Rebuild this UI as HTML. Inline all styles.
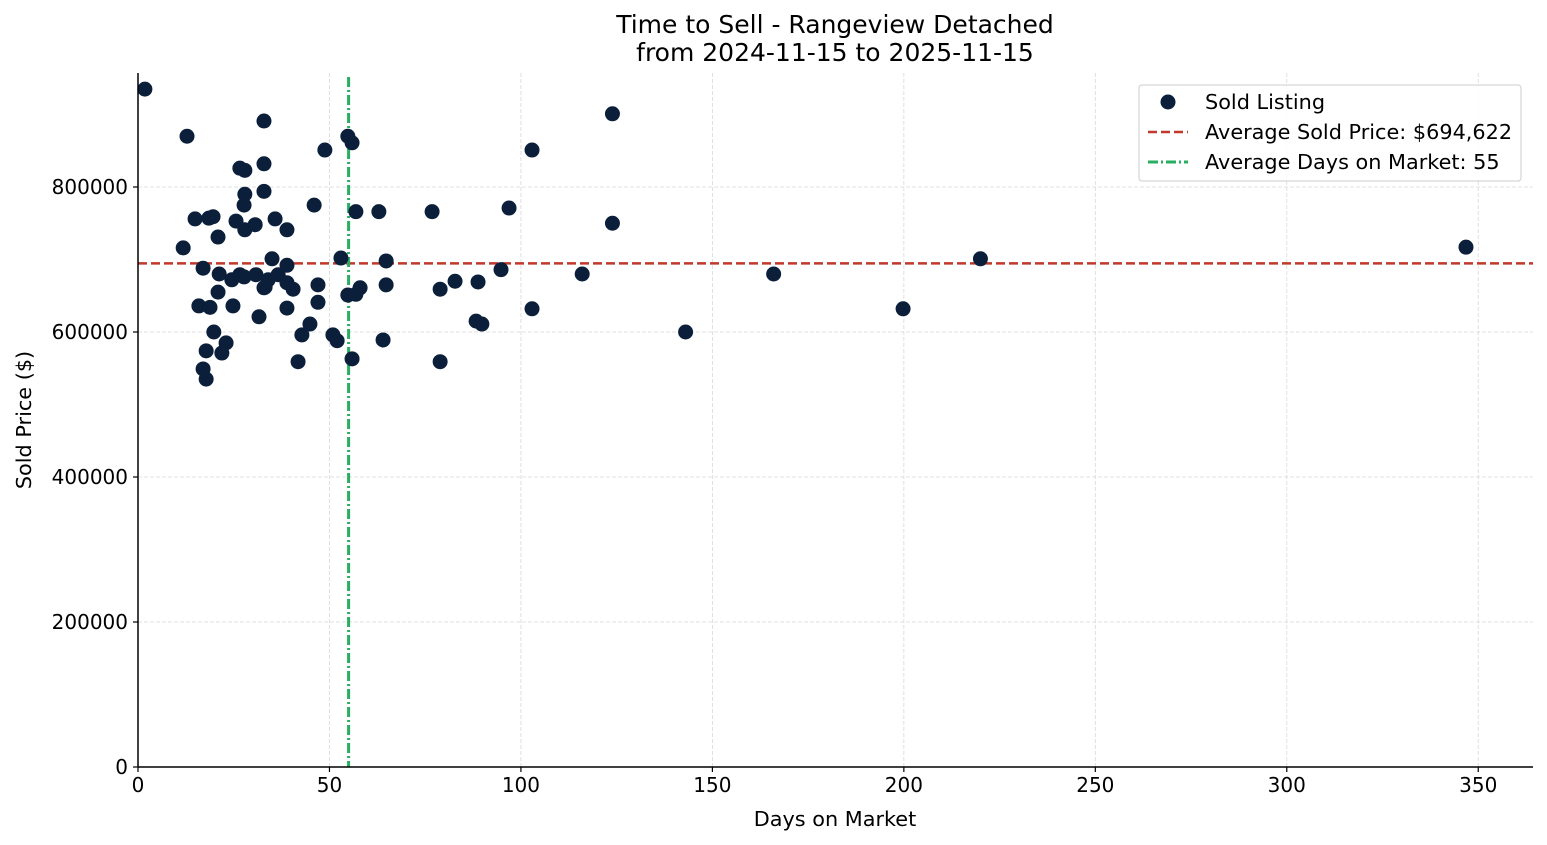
<!DOCTYPE html>
<html><head><meta charset="utf-8"><style>
html,body{margin:0;padding:0;background:#fff;}
svg{display:block;font-family:"DejaVu Sans","Liberation Sans",sans-serif;}
</style></head><body>
<svg id="chart" width="1547" height="845" viewBox="0 0 1547 845" xmlns="http://www.w3.org/2000/svg">
<g id="grid"></g>
<g id="refs"></g>
<g id="points"></g>
<g id="axes"></g>
<text x="835" y="33" text-anchor="middle" font-size="25" fill="#000">Time to Sell - Rangeview Detached</text>
<text x="835" y="61" text-anchor="middle" font-size="25" fill="#000">from 2024-11-15 to 2025-11-15</text>
<text x="835" y="826" text-anchor="middle" font-size="20.8" fill="#000">Days on Market</text>
<text transform="translate(31,420) rotate(-90)" text-anchor="middle" font-size="20.8" fill="#000">Sold Price ($)</text>
<g>
<rect x="1139" y="85" width="382" height="96" rx="3" fill="#fff" fill-opacity="0.9" stroke="#ccc"/>
<circle cx="1168" cy="102" r="7.5" fill="#0b1f3a"/>
<text x="1205" y="109" font-size="20.8">Sold Listing</text>
<line x1="1148" y1="132" x2="1188" y2="132" stroke="#c0392b" stroke-width="2.5" stroke-dasharray="9,4"/>
<text x="1205" y="139" font-size="20.8">Average Sold Price: $694,622</text>
<line x1="1148" y1="162" x2="1188" y2="162" stroke="#27ae60" stroke-width="3" stroke-dasharray="10,3,2,3"/>
<text x="1205" y="169" font-size="20.8">Average Days on Market: 55</text>
</g>
</svg>
<script>
const days=[1.8,12.8,32.9,11.8,14.9,18.5,19.6,20.9,25.6,26.6,27.9,27.9,27.7,27.9,30.6,32.9,32.9,35.8,38.9,35,17,21.2,24.5,26.6,27.7,30.8,33.2,34,36.6,38.9,38.9,40.5,47,47,32.9,24.8,15.9,18.8,20.9,31.6,38.9,44.9,42.8,19.8,23,21.9,17.8,17,17.8,41.8,50.9,52,55.9,53,46,48.8,54.8,55.9,56.9,62.9,64.8,64.8,58,56.9,54.8,64,76.8,78.9,82.8,88.8,78.9,88.3,89.8,94.8,96.9,102.9,102.9,116,123.9,123.9,143,166,199.8,220,346.8];
const prices=[935000,870000,891000,716000,756000,757000,759000,731000,753000,826000,823000,790000,775000,741000,748000,832000,794000,756000,741000,701000,688000,680000,672000,679000,676000,679000,662000,672000,679000,692000,668000,659000,665000,641000,661000,636000,636000,634000,655000,621000,633000,611000,596000,600000,585000,571000,574000,549000,535000,559000,596000,588000,563000,702000,775000,851000,870000,861000,766000,766000,698000,665000,661000,652000,651000,589000,766000,659000,670000,669000,559000,615000,611000,686000,771000,851000,632000,680000,901000,750000,600000,680000,632000,701000,717000];
const xTicks=[0,50,100,150,200,250,300,350];
const yTicks=[0,200000,400000,600000,800000];
const avgPrice=694622;
const avgDays=55;
const L=138,R=1533,T=73,B=767;
const xMax=364.3,yMax=957240;
const xs=v=>L+v/xMax*(R-L);
const ys=v=>B-v/yMax*(B-T);
const NS='http://www.w3.org/2000/svg';
function mk(parent,tag,attrs){const e=document.createElementNS(NS,tag);for(const k in attrs)e.setAttribute(k,attrs[k]);document.getElementById(parent).appendChild(e);return e;}
xTicks.forEach(t=>{
 const g=mk('grid','line',{x1:xs(t),x2:xs(t),y1:T,y2:B,stroke:'#d8d8d8','stroke-dasharray':'4,2','stroke-width':0.8});
 
 
 const tk=mk('axes','line',{x1:xs(t),x2:xs(t),y1:B,y2:B+5,stroke:'#000','stroke-width':1.2});
 
 
 const tx=mk('axes','text',{x:xs(t),y:B+25,'text-anchor':'middle','font-size':20});
 tx.textContent=t;
 
 
});
yTicks.forEach(t=>{
 const g=mk('grid','line',{x1:L,x2:R,y1:ys(t),y2:ys(t),stroke:'#d8d8d8','stroke-dasharray':'4,2','stroke-width':0.8});
 
 
 const tk=mk('axes','line',{x1:L-5,x2:L,y1:ys(t),y2:ys(t),stroke:'#000','stroke-width':1.2});
 
 
 const tx=mk('axes','text',{x:L-10,y:ys(t)+7,'text-anchor':'end','font-size':20});
 tx.textContent=t;
 
 
});
const ax1=mk('axes','line',{x1:L,x2:L,y1:T,y2:B,stroke:'#000','stroke-width':1.5});


const ax2=mk('axes','line',{x1:L,x2:R,y1:B,y2:B,stroke:'#000','stroke-width':1.5});


const hl=mk('refs','line',{x1:L,x2:R,y1:ys(avgPrice),y2:ys(avgPrice),stroke:'#c0392b','stroke-width':2.5,'stroke-dasharray':'9,4'});


const vl=mk('refs','line',{x1:xs(avgDays),x2:xs(avgDays),y1:T+4,y2:B,stroke:'#27ae60','stroke-width':3,'stroke-dasharray':'10,3,2,3'});


days.forEach((d,i)=>{
 const c=mk('points','circle',{cx:xs(d),cy:ys(prices[i]),r:7.5,fill:'#0b1f3a'});
 
 
});
</script>
</body></html>
